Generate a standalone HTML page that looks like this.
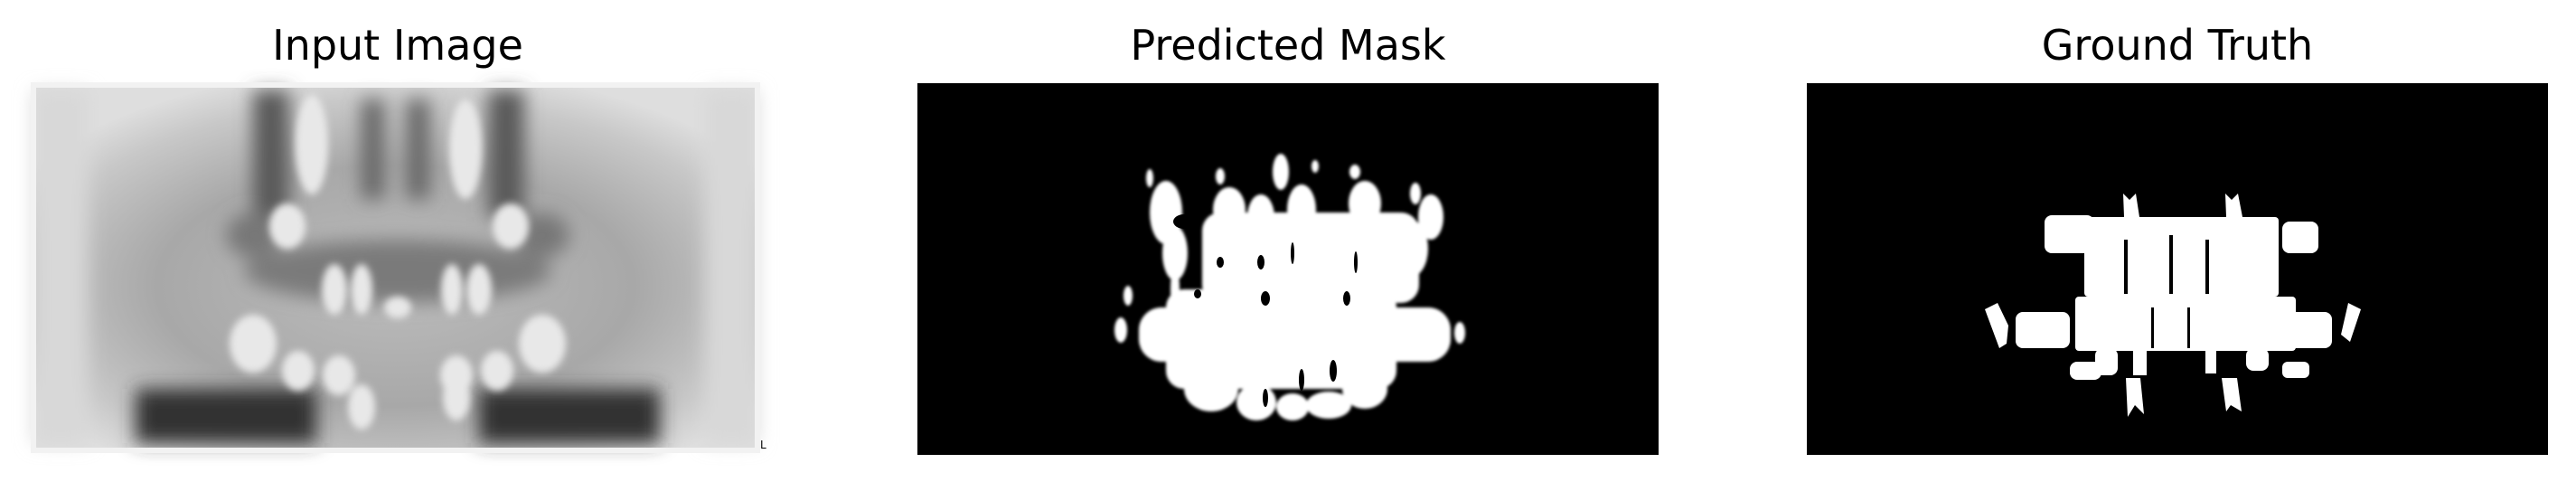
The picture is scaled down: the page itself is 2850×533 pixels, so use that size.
<!DOCTYPE html>
<html><head><meta charset="utf-8"><style>
html,body{margin:0;padding:0;background:#fff;}
svg{display:block;}
text{font-family:"DejaVu Sans","Liberation Sans",sans-serif;font-size:46px;fill:#000;}
</style></head><body>
<svg width="2850" height="533" viewBox="0 0 2850 533">
<defs>
<radialGradient id="xr" cx="0.5" cy="0.55" r="0.6">
<stop offset="0" stop-color="#bcbcbc"/><stop offset="0.55" stop-color="#a8a8a8"/><stop offset="0.85" stop-color="#c8c8c8"/><stop offset="1" stop-color="#dedede"/>
</radialGradient>
<filter id="bl"><feGaussianBlur stdDeviation="10"/></filter>
<filter id="bl3"><feGaussianBlur stdDeviation="4"/></filter>
<filter id="bl2"><feGaussianBlur stdDeviation="1.5"/></filter>
</defs>
<text x="440" y="66" text-anchor="middle">Input Image</text>
<text x="1425" y="66" text-anchor="middle">Predicted Mask</text>
<text x="2409" y="66" text-anchor="middle">Ground Truth</text>

<g>
<rect x="37" y="94" width="801" height="404" fill="url(#xr)"/>
<g filter="url(#bl)">
<rect x="150" y="430" width="200" height="60" fill="#333"/>
<rect x="530" y="430" width="200" height="60" fill="#333"/>
<rect x="280" y="100" width="40" height="140" fill="#5a5a5a"/>
<rect x="540" y="100" width="40" height="140" fill="#5a5a5a"/>
<rect x="400" y="110" width="25" height="110" fill="#666"/>
<rect x="450" y="110" width="25" height="110" fill="#666"/>
<ellipse cx="440" cy="300" rx="170" ry="35" fill="#7a7a7a"/>
<ellipse cx="600" cy="260" rx="30" ry="25" fill="#777"/>
<ellipse cx="280" cy="260" rx="30" ry="25" fill="#777"/>
<rect x="37" y="100" width="60" height="390" fill="#d8d8d8"/>
<rect x="780" y="100" width="58" height="390" fill="#d8d8d8"/>
</g>
<g filter="url(#bl3)" fill="#e8e8e8">
<ellipse cx="345" cy="160" rx="18" ry="55"/>
<ellipse cx="515" cy="165" rx="18" ry="55"/>
<ellipse cx="318" cy="250" rx="20" ry="25"/>
<ellipse cx="565" cy="250" rx="20" ry="25"/>
<ellipse cx="370" cy="320" rx="14" ry="28"/>
<ellipse cx="400" cy="320" rx="12" ry="28"/>
<ellipse cx="500" cy="320" rx="12" ry="28"/>
<ellipse cx="530" cy="320" rx="14" ry="28"/>
<ellipse cx="440" cy="340" rx="15" ry="12"/>
<ellipse cx="280" cy="380" rx="26" ry="32"/>
<ellipse cx="600" cy="380" rx="26" ry="32"/>
<ellipse cx="330" cy="410" rx="18" ry="22"/>
<ellipse cx="375" cy="415" rx="18" ry="22"/>
<ellipse cx="505" cy="415" rx="18" ry="22"/>
<ellipse cx="550" cy="410" rx="18" ry="22"/>
<ellipse cx="400" cy="450" rx="15" ry="25"/>
<ellipse cx="505" cy="440" rx="15" ry="25"/>
</g>
<rect x="37" y="94" width="801" height="404" fill="none" stroke="#f2f2f2" stroke-width="6"/>
<text x="841" y="496" style="font-size:12px">L</text>
</g>

<g>
<rect x="1015" y="92" width="820" height="411" fill="#000"/>
<g fill="#fff" filter="url(#bl2)">
<ellipse cx="1290" cy="235" rx="18" ry="35"/>
<ellipse cx="1300" cy="280" rx="14" ry="30"/>
<rect x="1330" y="235" width="240" height="100" rx="20"/>
<ellipse cx="1360" cy="232" rx="18" ry="25"/>
<ellipse cx="1395" cy="240" rx="15" ry="25"/>
<ellipse cx="1440" cy="232" rx="16" ry="28"/>
<ellipse cx="1510" cy="225" rx="18" ry="25"/>
<ellipse cx="1583" cy="240" rx="14" ry="25"/>
<ellipse cx="1560" cy="275" rx="20" ry="32"/>
<rect x="1260" y="340" width="345" height="60" rx="25"/>
<rect x="1290" y="320" width="255" height="110" rx="20"/>
<ellipse cx="1340" cy="430" rx="30" ry="25"/>
<ellipse cx="1390" cy="445" rx="22" ry="20"/>
<ellipse cx="1430" cy="450" rx="18" ry="15"/>
<ellipse cx="1470" cy="448" rx="25" ry="15"/>
<ellipse cx="1510" cy="430" rx="25" ry="22"/>
<ellipse cx="1417" cy="190" rx="9" ry="20"/>
<ellipse cx="1350" cy="195" rx="5" ry="9"/>
<ellipse cx="1499" cy="190" rx="6" ry="8"/>
<ellipse cx="1455" cy="184" rx="4" ry="7"/>
<ellipse cx="1566" cy="214" rx="6" ry="12"/>
<ellipse cx="1248" cy="327" rx="5" ry="11"/>
<ellipse cx="1240" cy="365" rx="7" ry="14"/>
<ellipse cx="1615" cy="368" rx="6" ry="12"/>
<ellipse cx="1272" cy="197" rx="4" ry="10"/>
<ellipse cx="1300" cy="320" rx="5" ry="25"/>
</g>
<g fill="#000">
<ellipse cx="1310" cy="245" rx="12" ry="8"/>
<ellipse cx="1350" cy="290" rx="4" ry="6"/>
<ellipse cx="1395" cy="290" rx="4" ry="8"/>
<ellipse cx="1400" cy="330" rx="5" ry="8"/>
<ellipse cx="1325" cy="325" rx="4" ry="5"/>
<ellipse cx="1490" cy="330" rx="4" ry="8"/>
<ellipse cx="1475" cy="410" rx="4" ry="12"/>
<ellipse cx="1440" cy="420" rx="3" ry="12"/>
<ellipse cx="1400" cy="440" rx="3" ry="10"/>
<ellipse cx="1430" cy="280" rx="2" ry="12"/>
<ellipse cx="1500" cy="290" rx="2" ry="12"/>
</g>
</g>

<g>
<rect x="1999" y="92" width="820" height="411" fill="#000"/>
<g fill="#fff">
<rect x="2262" y="238" width="55" height="42" rx="8"/>
<rect x="2306" y="240" width="215" height="88" rx="4"/>
<rect x="2525" y="245" width="40" height="35" rx="8"/>
<path d="M2349,214 L2356,221 L2363,214 L2367,240 L2350,240 Z"/>
<path d="M2462,214 L2469,221 L2476,214 L2481,240 L2463,240 Z"/>
<path d="M2196,342 L2210,335 L2222,360 L2220,380 L2212,385 Z"/>
<path d="M2612,342 L2598,335 L2590,370 L2600,378 Z"/>
<rect x="2230" y="345" width="60" height="40" rx="8"/>
<rect x="2520" y="345" width="60" height="40" rx="8"/>
<rect x="2296" y="328" width="244" height="60" rx="4"/>
<rect x="2318" y="385" width="25" height="30" rx="8"/>
<rect x="2290" y="400" width="35" height="20" rx="8"/>
<rect x="2485" y="385" width="25" height="25" rx="8"/>
<rect x="2525" y="400" width="30" height="18" rx="6"/>
<rect x="2360" y="385" width="15" height="30"/>
<rect x="2440" y="385" width="12" height="28"/>
<path d="M2352,418 L2368,418 L2372,458 L2362,448 L2354,461 Z"/>
<path d="M2458,418 L2475,418 L2480,455 L2468,448 L2463,455 Z"/>
</g>
<g fill="#000">
<rect x="2350" y="265" width="4" height="60"/>
<rect x="2400" y="260" width="4" height="65"/>
<rect x="2440" y="265" width="4" height="60"/>
<rect x="2380" y="340" width="3" height="45"/>
<rect x="2420" y="340" width="3" height="45"/>
</g>
</g>
</svg>
</body></html>
